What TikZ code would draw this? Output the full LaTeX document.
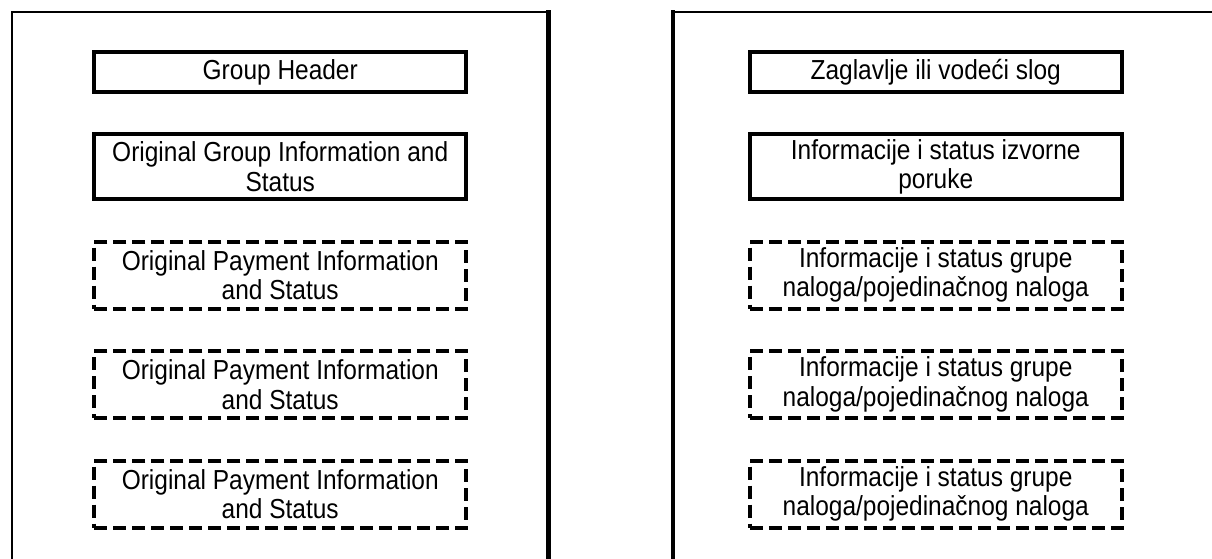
\documentclass[tikz,border=0pt]{standalone}
\usepackage{fontspec}
\setmainfont[FakeStretch=0.89]{Liberation Sans}
\usetikzlibrary{positioning}

\begin{document}
\begin{tikzpicture}[x=1pt, y=-1pt,
		my box/.style = {draw, line width=4pt,
					minimum width=372pt,
					inner sep=0pt, outer sep=0pt,
					align=center,
					font=\fontsize{27.5}{29.5}\selectfont},
		my dashed box/.style = {my box, minimum height=67pt,
					dash pattern=on 13pt off 6pt},
		node distance=42.5pt
                   ]

%Picture size
    \useasboundingbox (0,0) rectangle (1212,559);

%Draw frames
    \draw[line width=2pt] (12,559) -- (12,12.5) -- (548.5,12.5);
    \draw[line width=4.5pt] (548.5,10.5) -- (548.5,559);
    \draw[line width=2pt] (673,12.5) -- (1212,12.5);
    \draw[line width=4.5pt] (673,10.5) -- (673,559);

%Left column
	\node[my box, minimum height=40pt] (grpHdr) at (280.25,72) {Group Header};
	\node[my box, minimum height=64.5pt, below=of grpHdr] (orgGrp) {Original Group Information and\\Status};
	\node[my dashed box, below=of orgGrp] (orgPmt1) {Original Payment Information\\and Status};
	\node[my dashed box, below=of orgPmt1] (orgPmt2) {Original Payment Information\\and Status};
	\node[my dashed box, below=of orgPmt2] (orgPmt3) {Original Payment Information\\and Status};

%Right column
	\node[my box, minimum height=40pt] (zaglavlje) at (935.75,72) {Zaglavlje ili vodeći slog};
	\node[my box, minimum height=64.5pt, below=of zaglavlje] (izvPoruka) {Informacije i status izvorne\\poruke};
	\node[my dashed box, below=of izvPoruka] (grpNalog1) {Informacije i status grupe\\naloga/pojedinačnog naloga};
	\node[my dashed box, below=of grpNalog1] (grpNalog2) {Informacije i status grupe\\naloga/pojedinačnog naloga};
	\node[my dashed box, below=of grpNalog2] (grpNalog3) {Informacije i status grupe\\naloga/pojedinačnog naloga};

\end{tikzpicture}
\end{document}
